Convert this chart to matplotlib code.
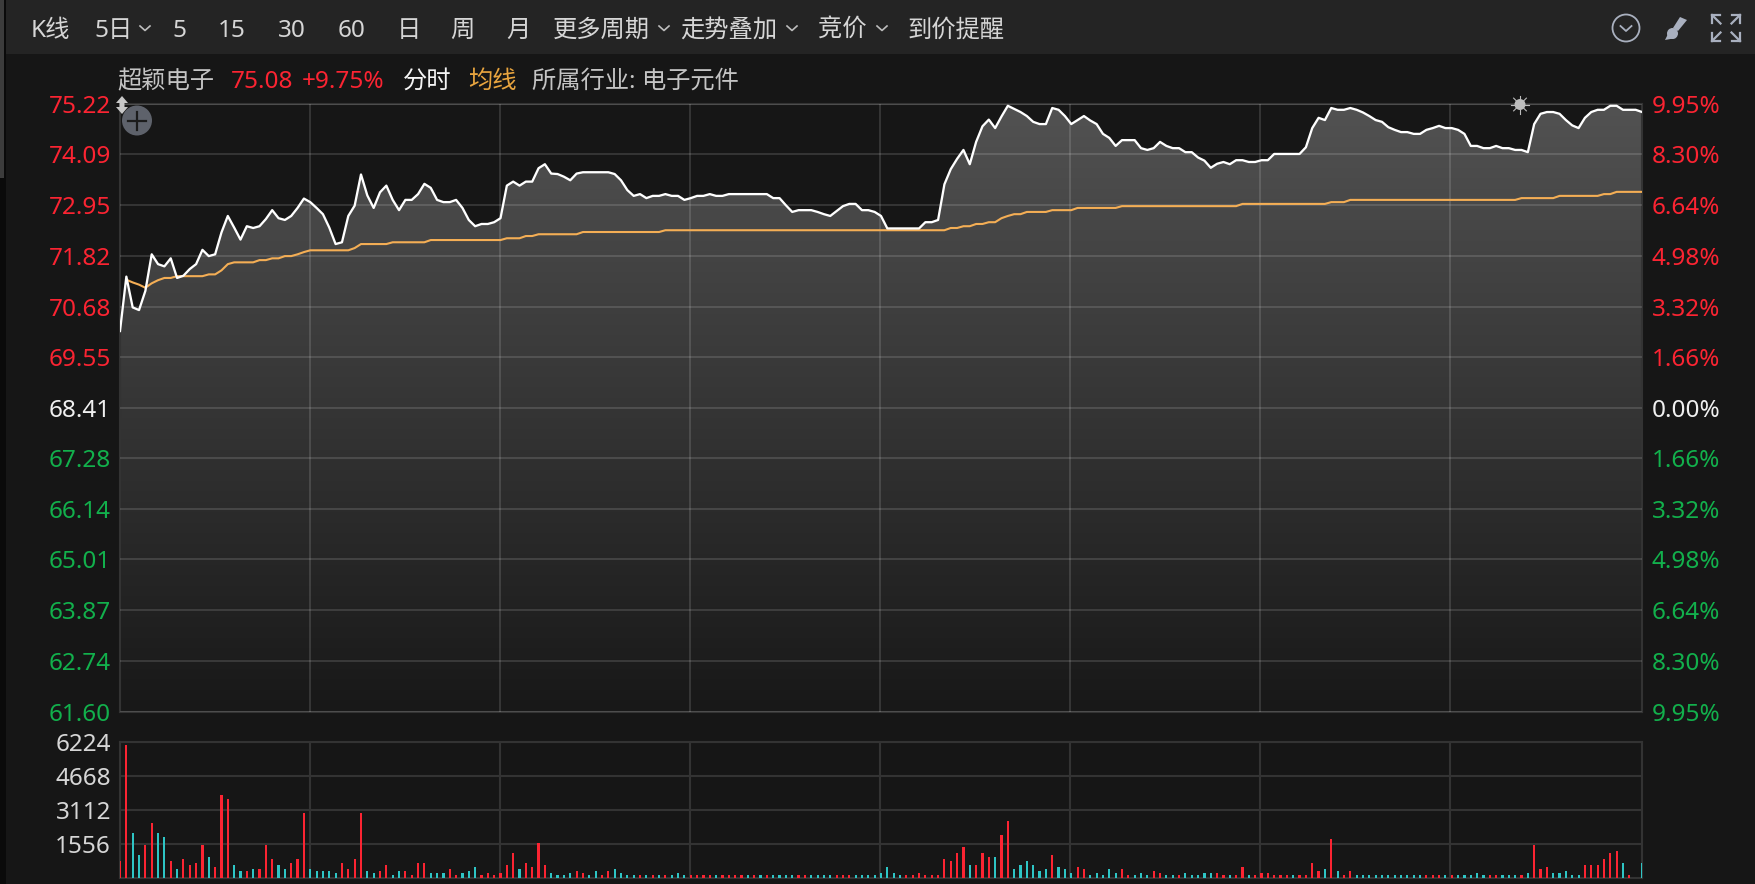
import numpy as np
import matplotlib
matplotlib.use('Agg')
import matplotlib.pyplot as plt
from matplotlib.patches import Circle, Polygon, Rectangle

plt.rcParams['font.family'] = ['Noto Sans', 'Noto Sans CJK SC', 'DejaVu Sans']

# 5 day series, one sample per bar
price = [
  70.13, 71.35, 70.66, 70.60, 71.03, 71.85, 71.63, 71.58, 71.76, 71.32,
  71.37, 71.52, 71.63, 71.95, 71.81, 71.85, 72.34, 72.71, 72.45, 72.18,
  72.48, 72.44, 72.48, 72.64, 72.84, 72.66, 72.62, 72.71, 72.89, 73.10,
  73.02, 72.89, 72.75, 72.45, 72.08, 72.12, 72.71, 72.94, 73.64, 73.17,
  72.89, 73.24, 73.39, 73.07, 72.84, 73.07, 73.07, 73.20, 73.43, 73.34,
  73.07, 73.02, 73.02, 73.07, 72.89, 72.62, 72.48, 72.53, 72.53, 72.57,
  72.66, 73.39, 73.48, 73.39, 73.48, 73.48, 73.78, 73.87, 73.66, 73.65,
  73.59, 73.51, 73.66, 73.69, 73.69, 73.69, 73.69, 73.69, 73.65, 73.51,
  73.29, 73.16, 73.20, 73.11, 73.16, 73.16, 73.20, 73.16, 73.16, 73.07,
  73.11, 73.16, 73.16, 73.20, 73.16, 73.16, 73.20, 73.20, 73.20, 73.20,
  73.20, 73.20, 73.20, 73.11, 73.11, 72.95, 72.80, 72.84, 72.84, 72.84,
  72.80, 72.75, 72.71, 72.82, 72.93, 72.98, 72.98, 72.84, 72.84, 72.80,
  72.71, 72.43, 72.43, 72.43, 72.43, 72.43, 72.43, 72.57, 72.57, 72.62,
  73.42, 73.76, 73.99, 74.19, 73.87, 74.37, 74.72, 74.87, 74.68, 74.94,
  75.18, 75.11, 75.04, 74.95, 74.82, 74.77, 74.77, 75.13, 75.09, 74.95,
  74.77, 74.86, 74.95, 74.85, 74.77, 74.55, 74.46, 74.28, 74.41, 74.41,
  74.41, 74.23, 74.19, 74.23, 74.37, 74.28, 74.23, 74.23, 74.14, 74.14,
  74.02, 73.95, 73.79, 73.88, 73.92, 73.87, 73.96, 73.96, 73.92, 73.92,
  73.96, 73.96, 74.10, 74.10, 74.10, 74.10, 74.10, 74.25, 74.68, 74.91,
  74.86, 75.13, 75.09, 75.09, 75.13, 75.09, 75.03, 74.95, 74.86, 74.82,
  74.70, 74.64, 74.59, 74.59, 74.55, 74.55, 74.64, 74.68, 74.73, 74.68,
  74.68, 74.64, 74.55, 74.28, 74.28, 74.23, 74.23, 74.28, 74.23, 74.23,
  74.19, 74.19, 74.14, 74.77, 75.00, 75.04, 75.04, 75.00, 74.86, 74.74,
  74.68, 74.91, 75.04, 75.09, 75.09, 75.18, 75.18, 75.09, 75.09, 75.09,
  75.04]

avg_price = [
  np.nan, 71.28, 71.22, 71.17, 71.10, 71.20, 71.27, 71.32, 71.32, 71.36,
  71.36, 71.36, 71.36, 71.36, 71.40, 71.40, 71.49, 71.63, 71.67, 71.67,
  71.67, 71.67, 71.72, 71.72, 71.76, 71.76, 71.81, 71.81, 71.85, 71.90,
  71.94, 71.94, 71.94, 71.94, 71.94, 71.94, 71.94, 71.99, 72.08, 72.08,
  72.08, 72.08, 72.08, 72.12, 72.12, 72.12, 72.12, 72.12, 72.12, 72.17,
  72.17, 72.17, 72.17, 72.17, 72.17, 72.17, 72.17, 72.17, 72.17, 72.17,
  72.17, 72.21, 72.21, 72.21, 72.26, 72.26, 72.30, 72.30, 72.30, 72.30,
  72.30, 72.30, 72.30, 72.35, 72.35, 72.35, 72.35, 72.35, 72.35, 72.35,
  72.35, 72.35, 72.35, 72.35, 72.35, 72.35, 72.39, 72.39, 72.39, 72.39,
  72.39, 72.39, 72.39, 72.39, 72.39, 72.39, 72.39, 72.39, 72.39, 72.39,
  72.39, 72.39, 72.39, 72.39, 72.39, 72.39, 72.39, 72.39, 72.39, 72.39,
  72.39, 72.39, 72.39, 72.39, 72.39, 72.39, 72.39, 72.39, 72.39, 72.39,
  72.39, 72.39, 72.39, 72.39, 72.39, 72.39, 72.39, 72.39, 72.39, 72.39,
  72.39, 72.44, 72.44, 72.48, 72.48, 72.53, 72.53, 72.57, 72.57, 72.66,
  72.71, 72.75, 72.75, 72.80, 72.80, 72.80, 72.80, 72.84, 72.84, 72.84,
  72.84, 72.89, 72.89, 72.89, 72.89, 72.89, 72.89, 72.89, 72.93, 72.93,
  72.93, 72.93, 72.93, 72.93, 72.93, 72.93, 72.93, 72.93, 72.93, 72.93,
  72.93, 72.93, 72.93, 72.93, 72.93, 72.93, 72.93, 72.98, 72.98, 72.98,
  72.98, 72.98, 72.98, 72.98, 72.98, 72.98, 72.98, 72.98, 72.98, 72.98,
  72.98, 73.02, 73.02, 73.02, 73.07, 73.07, 73.07, 73.07, 73.07, 73.07,
  73.07, 73.07, 73.07, 73.07, 73.07, 73.07, 73.07, 73.07, 73.07, 73.07,
  73.07, 73.07, 73.07, 73.07, 73.07, 73.07, 73.07, 73.07, 73.07, 73.07,
  73.07, 73.11, 73.11, 73.11, 73.11, 73.11, 73.11, 73.16, 73.16, 73.16,
  73.16, 73.16, 73.16, 73.16, 73.20, 73.20, 73.25, 73.25, 73.25, 73.25,
  73.25]

volume = [
  765, 6085, 2049, 1040, 1498, 2508, 2049, 1865, 765, 398,
  856, 581, 673, 1498, 948, 489, 3792, 3608, 581, 306,
  306, 398, 398, 1498, 856, 581, 398, 673, 856, 2966,
  398, 306, 306, 306, 214, 673, 398, 856, 2966, 306,
  214, 306, 581, 122, 306, 306, 122, 673, 673, 214,
  214, 214, 398, 122, 214, 306, 489, 122, 214, 122,
  214, 581, 1131, 398, 673, 489, 1590, 581, 214, 122,
  122, 214, 306, 214, 122, 306, 122, 306, 398, 214,
  122, 122, 122, 122, 122, 122, 122, 122, 214, 122,
  122, 122, 122, 122, 122, 122, 122, 122, 122, 122,
  122, 122, 122, 122, 122, 122, 122, 122, 122, 122,
  122, 122, 122, 122, 122, 122, 122, 122, 122, 122,
  214, 489, 214, 122, 122, 122, 214, 122, 122, 122,
  856, 765, 1131, 1407, 581, 581, 1131, 948, 948, 1957,
  2600, 398, 581, 765, 581, 306, 398, 1040, 489, 398,
  214, 489, 398, 122, 214, 122, 398, 214, 398, 122,
  122, 214, 122, 306, 214, 122, 122, 122, 214, 122,
  122, 214, 214, 214, 122, 122, 122, 489, 122, 122,
  214, 214, 122, 122, 122, 122, 122, 122, 673, 306,
  398, 1774, 306, 122, 306, 122, 122, 122, 122, 122,
  122, 122, 122, 122, 122, 122, 122, 122, 122, 122,
  122, 122, 122, 122, 214, 122, 122, 122, 122, 122,
  122, 122, 214, 1498, 398, 489, 214, 214, 306, 122,
  122, 581, 581, 581, 856, 1131, 1223, 673, 122, 0,
  673]

# r = up bar, c = down bar
volume_dir = (
  'rrccrrccrc' 'rrrrcrrrcc' 'rcrrrccrrr' 'cccccrrrrc' 'crrccrrrrc'
  'ccrrcccrrr' 'rrrcrrrrcc' 'ccrrccrrcc' 'ccrcrcrccc' 'rrrrcrrrrc'
  'rcrccccrrc' 'cccrrrcccc' 'ccccrrrrrr' 'rrrrcrrrcr' 'rccccccrcc'
  'crrcccccrr' 'cccrrccrcc' 'cccrrcrrcr' 'rrrrrcrrrr' 'crcrrccccc'
  'ccccccrrrc' 'rcccccrrcc' 'crcrrrcccc' 'crrrrrrcrc' 'c')

price_ticks = [75.22, 74.09, 72.95, 71.82, 70.68, 69.55, 68.41, 67.28, 66.14, 65.01, 63.87, 62.74, 61.60]
price_labels = ['75.22', '74.09', '72.95', '71.82', '70.68', '69.55', '68.41', '67.28', '66.14', '65.01', '63.87', '62.74', '61.60']
pct_labels = ['9.95%', '8.30%', '6.64%', '4.98%', '3.32%', '1.66%', '0.00%', '1.66%', '3.32%', '4.98%', '6.64%', '8.30%', '9.95%']
volume_ticks = [1556, 3112, 4668, 6224]
# the grid does not land exactly on every 30th sample in the original
time_ticks = [29.96, 59.92, 89.88, 119.84, 149.8, 179.76, 209.72]

toolbar_labels = ['K线', '5日', '5', '15', '30', '60', '日', '周', '月', '更多周期', '走势叠加', '竞价', '到价提醒']
toolbar_x = [31, 94, 172, 218, 278, 338, 397, 450, 506, 553, 680, 818, 907]
chevron_x = [145, 664, 792, 882]

bg_color = '#161616'
bar_color = '#242424'
grid_color = '#333333'
red = '#fb2432'
green = '#12b04c'
cyan = '#2ec5c5'
orange = '#f4ae55'
text_color = '#d6d6d6'
icon_color = '#a9b0bf'
font_pt = 17.5

W, H = 1756, 884
fig = plt.figure(figsize=(W/100, H/100), dpi=100, facecolor=bg_color)

def px_axes(left, top, right, bottom):
  return fig.add_axes([left/W, 1 - bottom/H, (right - left)/W, (bottom - top)/H])

def tick_colors(axis, colors):
  for label, color in zip(axis.get_ticklabels(), colors):
    label.set_color(color)

# Price panel
x = np.arange(len(price))
ax = px_axes(120, 104, 1642, 711.5)
ax.set_facecolor(bg_color)
ax.set_xlim(0, 240)
ax.set_ylim(price_ticks[-1], price_ticks[0])

# gradient below the price line
fill = ax.fill_between(x, price, price_ticks[-1], facecolor='none', edgecolor='none')
gradient = np.linspace(0, 1, 256).reshape(-1, 1)
cmap = matplotlib.colors.LinearSegmentedColormap.from_list('area', ['#525252', '#181818'])
im = ax.imshow(gradient, extent=[0, 240, price_ticks[-1], price_ticks[0]], origin='upper',
               aspect='auto', cmap=cmap, zorder=1)
im.set_clip_path(fill.get_paths()[0], transform=ax.transData)
ax.set_xlim(0, 240)
ax.set_ylim(price_ticks[-1], price_ticks[0])

ax.set_yticks(price_ticks)
ax.set_yticklabels(price_labels, fontsize=font_pt)
ax.set_xticks(time_ticks)
ax.set_xticklabels([])
ax.tick_params(axis='both', length=0)
ax.tick_params(axis='y', pad=6.5)
tick_colors(ax.yaxis, [red]*6 + ['#f0f0f0'] + [green]*6)
ax.grid(True, color='white', alpha=0.13, linewidth=1.5, zorder=2)
ax.set_axisbelow(False)
ax.plot(x, avg_price, '-', color=orange, linewidth=1.5, zorder=3)
ax.plot(x, price, '-', color='white', linewidth=1.65, zorder=4)
for spine in ax.spines.values():
  spine.set_color(grid_color)
  spine.set_linewidth(1.5)

ax_pct = ax.twinx()
ax_pct.set_ylim(ax.get_ylim())
ax_pct.set_yticks(price_ticks)
ax_pct.set_yticklabels(pct_labels, fontsize=font_pt)
ax_pct.tick_params(axis='y', length=0, pad=7)
tick_colors(ax_pct.yaxis, [red]*6 + ['#f0f0f0'] + [green]*6)
for spine in ax_pct.spines.values():
  spine.set_visible(False)

# Volume panel
ax_vol = px_axes(120, 742, 1642, 877.7)
ax_vol.set_facecolor(bg_color)
ax_vol.set_xlim(0, 240)
ax_vol.set_ylim(0, volume_ticks[-1])
ax_vol.set_yticks(volume_ticks)
ax_vol.set_yticklabels([str(v) for v in volume_ticks], fontsize=font_pt, color=text_color)
ax_vol.set_xticks(time_ticks)
ax_vol.set_xticklabels([])
ax_vol.tick_params(axis='both', length=0)
ax_vol.tick_params(axis='y', pad=6.5)
ax_vol.grid(True, color=grid_color, linewidth=1.5)
ax_vol.set_axisbelow(True)
bar_colors = [red if d == 'r' else cyan for d in volume_dir]
ax_vol.bar(x, volume, width=0.34, color=bar_colors, linewidth=0, zorder=3)
for spine in ax_vol.spines.values():
  spine.set_color(grid_color)
  spine.set_linewidth(1.5)

# Everything around the panels is laid out in screen pixels
ui = fig.add_axes([0, 0, 1, 1], zorder=10)
ui.set_xlim(0, W)
ui.set_ylim(H, 0)
ui.axis('off')
ui.add_patch(Rectangle((6, 0), W, 54, facecolor=bar_color, edgecolor='none'))
ui.add_patch(Rectangle((0, 0), 6, H, facecolor='#0a0a0a', edgecolor='none'))
ui.add_patch(Rectangle((0, 0), 4, 178, facecolor='#3c3c3c', edgecolor='none'))

for label, lx in zip(toolbar_labels, toolbar_x):
  ui.text(lx, 28, label, color=text_color, fontsize=font_pt, ha='left', va='center_baseline')
for cx in chevron_x:
  ui.plot([cx - 5, cx, cx + 5], [26, 30.5, 26], color='#bdbdbd', linewidth=1.2)

header = [('超颖电子', 117, '#c4c4c4'), ('75.08', 231, red), ('+9.75%', 302, red), ('分时', 403, '#f5f5f5'),
          ('均线', 468, '#e9a53f'), ('所属行业: 电子元件', 532, '#c4c4c4')]
for label, lx, color in header:
  ui.text(lx, 79, label, color=color, fontsize=font_pt, ha='left', va='center_baseline')

# top right icons
ui.add_patch(Circle((1626, 28), 13.5, facecolor='none', edgecolor=icon_color, linewidth=1.3))
ui.plot([1620.5, 1626, 1631.5], [26, 31, 26], color=icon_color, linewidth=1.3)
ui.add_patch(Polygon([[1680, 17], [1687, 20], [1678, 31], [1673, 28]], facecolor=icon_color, edgecolor='none'))
ui.add_patch(Circle((1672.5, 33.5), 5.5, facecolor=icon_color, edgecolor='none'))
ui.add_patch(Polygon([[1668, 34], [1676, 38], [1665, 40]], facecolor=icon_color, edgecolor='none'))
for cx, cy, sx, sy in [(1712, 15, 1, 1), (1740, 15, -1, 1), (1712, 41, 1, -1), (1740, 41, -1, -1)]:
  ui.plot([cx + 8*sx, cx, cx], [cy, cy, cy + 8*sy], color=icon_color, linewidth=1.6, solid_joinstyle='miter')
  ui.plot([cx, cx + 8.5*sx], [cy, cy + 8.5*sy], color=icon_color, linewidth=1.6)

# crosshair handle and add button at the top left of the plot
ui.add_patch(Polygon([[122, 96], [128, 103], [124.5, 103], [124.5, 107], [128, 107], [122, 114], [116, 107], [119.5, 107], [119.5, 103], [116, 103]],
                     facecolor='#c8c8c8', edgecolor='none'))
ui.add_patch(Circle((137, 120.5), 15, facecolor='#5e626b', edgecolor='none'))
ui.plot([128, 146], [120.5, 120.5], color='#1c1c1c', linewidth=1.6)
ui.plot([137, 137], [111.5, 129.5], color='#1c1c1c', linewidth=1.6)

# sun marker above the line
ui.add_patch(Circle((1520, 104.5), 5.5, facecolor='#bcbcbc', edgecolor='none'))
for a in np.deg2rad(np.arange(0, 360, 45)):
  ui.plot([1520 + 5*np.cos(a), 1520 + 9*np.cos(a)], [104.5 + 5*np.sin(a), 104.5 + 9*np.sin(a)],
          color='#bcbcbc', linewidth=0.8)

fig.savefig('out.png', dpi=100, facecolor=bg_color)
